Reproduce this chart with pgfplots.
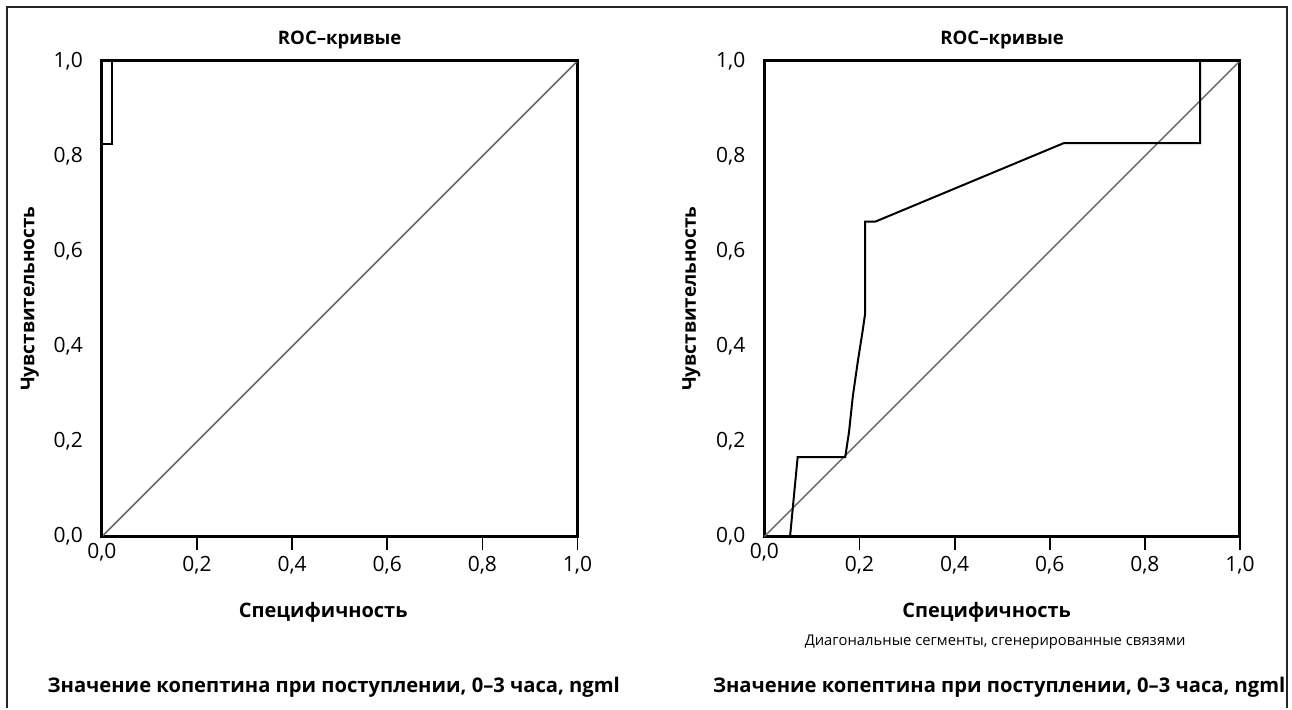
\documentclass[border=0pt]{standalone}
\usepackage{fontspec}
\setmainfont{Open Sans}
\usepackage{pgfplots}
\pgfplotsset{compat=1.18}

% common look of both ROC panels
\pgfplotsset{rocax/.style={
    scale only axis, width=238pt, height=238pt,
    xmin=0, xmax=1, ymin=0, ymax=1,
    xtick={0.2,0.4,0.6,0.8,1}, ytick={0,0.2,0.4,0.6,0.8,1},
    extra x ticks={0}, extra x tick style={major tick length=0pt},
    axis line style={line width=1.5pt},
    xtick pos=bottom, xtick align=outside, major tick length=6.5pt,
    xtick style={line width=0.9pt, black},
    ytick style={draw=none},
    tick label style={font=\fontsize{10.5}{12}\selectfont},
    yticklabel style={xshift=-6pt},
    /pgf/number format/use comma,
    /pgf/number format/fixed,
    /pgf/number format/fixed zerofill,
    /pgf/number format/precision=1,
    /pgf/number format/assume math mode=true,
    clip=false,
}}

\begin{document}
\begin{tikzpicture}
\path (0,0) rectangle (646pt,354.5pt);
\draw[line width=0.8pt, black!85] (3.5pt,0) -- (3.5pt,351pt) -- (644pt,351pt) -- (644pt,0);

\begin{axis}[rocax, at={(51pt,86pt)}, anchor=south west]
  \addplot[gray!80!black, line width=0.75pt] coordinates {(0,0) (1,1)};
  \addplot[black, line width=1pt] coordinates {
    (0,0) (0,0.826) (0.021,0.826) (0.021,1) (1,1)};
\end{axis}

\begin{axis}[rocax, at={(382.5pt,86pt)}, anchor=south west]
  \addplot[gray!80!black, line width=0.75pt] coordinates {(0,0) (1,1)};
  \addplot[black, line width=1pt] coordinates {
    (0.054,0) (0.070,0.167) (0.170,0.167) (0.178,0.22) (0.186,0.295)
    (0.191,0.33) (0.196,0.365) (0.207,0.435) (0.212,0.47) (0.212,0.662)
    (0.233,0.662) (0.629,0.827) (0.916,0.827) (0.916,1) (1,1)};
\end{axis}

\tikzset{bt/.style={font=\fontsize{10}{12}\bfseries\selectfont}}
\tikzset{tt/.style={font=\fontsize{9.3}{11}\bfseries\selectfont}}
\node[tt] at (170pt,334.5pt) {ROC–кривые};
\node[tt] at (501.5pt,334.5pt) {ROC–кривые};
\node[bt, font=\fontsize{9.5}{11}\bfseries\selectfont, rotate=90] at (15pt,205pt) {Чувствительность};
\node[bt, font=\fontsize{9.5}{11}\bfseries\selectfont, rotate=90] at (346pt,205pt) {Чувствительность};
\node[bt] at (161.75pt,48pt) {Специфичность};
\node[bt] at (493.75pt,48pt) {Специфичность};
\node[font=\fontsize{7.4}{9}\selectfont] at (498pt,33pt) {Диагональные сегменты, сгенерированные связями};
\node[bt, font=\fontsize{10.1}{12}\bfseries\selectfont] at (167pt,10.5pt) {Значение копептина при поступлении, 0–3 часа, ngml};
\node[bt, font=\fontsize{10.1}{12}\bfseries\selectfont] at (500pt,10.5pt) {Значение копептина при поступлении, 0–3 часа, ngml};
\end{tikzpicture}
\end{document}
